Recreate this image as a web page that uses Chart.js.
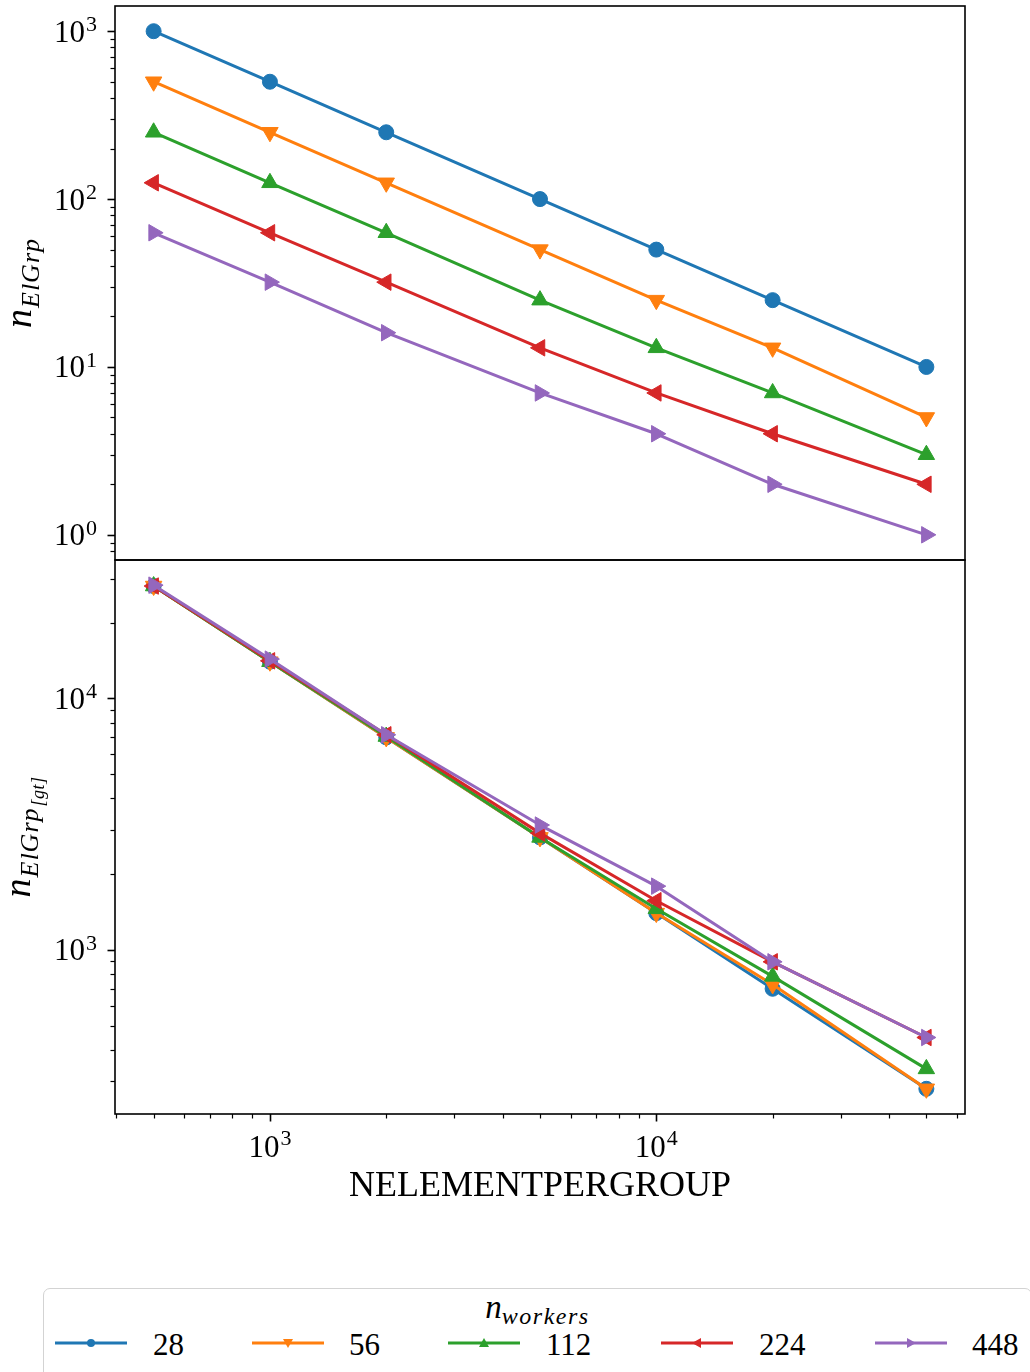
<!DOCTYPE html>
<html><head><meta charset="utf-8">
<script src="https://cdn.jsdelivr.net/npm/chart.js@4.4.1/dist/chart.umd.min.js"></script>
<style>
html,body{margin:0;padding:0;background:#fff;}
body{width:1030px;height:1372px;position:relative;overflow:hidden;font-family:"Liberation Serif",serif;color:#000;}
canvas{position:absolute;left:0;}
#c1{top:0;}
#c2{top:500px;}
#legendBox{position:absolute;left:43px;top:1288px;width:989px;height:130px;border:1.5px solid #d3d3d3;border-radius:7px;box-sizing:border-box;background:#fff;}
.ltxt{position:absolute;font-size:31px;line-height:31px;white-space:nowrap;}
.lsvg{position:absolute;}
</style></head><body>
<canvas id="c1" width="1030" height="600"></canvas>
<canvas id="c2" width="1030" height="760"></canvas>
<div id="legendBox"></div>
<script>
// ---------------- data ----------------
const nElementPerGroup = [500, 1000, 2000, 5000, 10000, 20000, 50000];
const workerLabels = ['28', '56', '112', '224', '448'];
const legendTitle = 'n_workers';

// n_ElGrp (top panel)
const nElGrp_28  = [1000, 500, 250, 100, 50, 25, 10];
const nElGrp_56  = [500, 250, 125, 50, 25, 13, 5];
const nElGrp_112 = [250, 125, 63, 25, 13, 7, 3];
const nElGrp_224 = [125, 63, 32, 13, 7, 4, 2];
const nElGrp_448 = [63, 32, 16, 7, 4, 2, 1];

// n_ElGrp[gt] (bottom panel)
const nElGrpGt_28  = [28000, 14000, 7000, 2800, 1400, 700, 280];
const nElGrpGt_56  = [28000, 14000, 7000, 2800, 1400, 728, 280];
const nElGrpGt_112 = [28000, 14000, 7056, 2800, 1456, 784, 336];
const nElGrpGt_224 = [28000, 14112, 7168, 2912, 1568, 896, 448];
const nElGrpGt_448 = [28224, 14336, 7168, 3136, 1792, 896, 448];

// tick labels
const xTickValues = [1000, 10000];
const xTickLabels = ['10^3', '10^4'];
const topYTickValues = [1, 10, 100, 1000];
const topYTickLabels = ['10^0', '10^1', '10^2', '10^3'];
const botYTickValues = [1000, 10000];
const botYTickLabels = ['10^3', '10^4'];
const xTitle = 'NELEMENTPERGROUP';

// ---------------- styles ----------------
const colors = ['#1f77b4', '#ff7f0e', '#2ca02c', '#d62728', '#9467bd'];
const pStyles = ['circle', 'triangle', 'triangle', 'triangle', 'triangle'];
const pRot = [0, 180, 0, 270, 90];
const pRad = [7.5, 9.5, 9.5, 9.5, 9.5];

const topSeries = [nElGrp_28, nElGrp_56, nElGrp_112, nElGrp_224, nElGrp_448];
const botSeries = [nElGrpGt_28, nElGrpGt_56, nElGrpGt_112, nElGrpGt_224, nElGrpGt_448];

const FONT = '"Liberation Serif", "DejaVu Serif", serif';
const X_MIN = 397.2, X_MAX = 62946;

function makeDatasets(series) {
  return workerLabels.map((w, i) => ({
    label: w,
    data: nElementPerGroup.map((x, j) => ({x: x, y: series[i][j]})),
    borderColor: colors[i],
    backgroundColor: colors[i],
    pointBackgroundColor: colors[i],
    pointBorderColor: colors[i],
    borderWidth: 3,
    pointStyle: pStyles[i],
    rotation: pRot[i],
    pointRotation: pRot[i],
    pointRadius: pRad[i],
    pointBorderWidth: 1,
    pointHoverRadius: pRad[i],
    tension: 0,
    fill: false,
    clip: false,
    order: workerLabels.length - 1 - i
  }));
}

function minorValues(min, max) {
  const out = [];
  for (let d = Math.floor(Math.log10(min)) - 1; d <= Math.ceil(Math.log10(max)); d++) {
    for (let k = 2; k <= 9; k++) {
      const v = k * Math.pow(10, d);
      if (v >= min && v <= max) out.push(v);
    }
  }
  return out;
}

function drawPow(ctx, label, x, y, align, baseDy, expDy) {
  const parts = label.split('^');
  const bf = '31px ' + FONT, ef = '22px ' + FONT;
  ctx.font = bf; const wb = ctx.measureText(parts[0]).width;
  ctx.font = ef; const we = ctx.measureText(parts[1]).width;
  const gap = 1;
  const total = wb + gap + we;
  const x0 = align === 'right' ? x - total : x - total / 2;
  ctx.textAlign = 'left'; ctx.textBaseline = 'alphabetic'; ctx.fillStyle = '#000';
  ctx.font = bf; ctx.fillText(parts[0], x0, y + baseDy);
  ctx.font = ef; ctx.fillText(parts[1], x0 + wb + gap, y + expDy);
}

function drawRotTitle(ctx, parts, bx, cy) {
  ctx.save();
  ctx.translate(bx, cy);
  ctx.rotate(-Math.PI / 2);
  let total = 0;
  parts.forEach(p => {
    ctx.font = 'italic ' + p.size + 'px ' + FONT;
    ctx.letterSpacing = (p.ls || 0) + 'px';
    p.w = ctx.measureText(p.t).width; total += p.w + (p.gap || 0);
  });
  let x = -total / 2;
  ctx.fillStyle = '#000'; ctx.textAlign = 'left'; ctx.textBaseline = 'alphabetic';
  parts.forEach(p => {
    ctx.font = 'italic ' + p.size + 'px ' + FONT;
    ctx.letterSpacing = (p.ls || 0) + 'px';
    x += (p.gap || 0); ctx.fillText(p.t, x, p.dy || 0); x += p.w;
  });
  ctx.letterSpacing = '0px';
  ctx.restore();
}

const decoPlugin = {
  id: 'deco',
  afterDraw(chart, args, o) {
    const ctx = chart.ctx, ca = chart.chartArea;
    const xs = chart.scales.x, ys = chart.scales.y;
    ctx.save();
    ctx.strokeStyle = '#000';
    const line = (x1, y1, x2, y2, w) => { ctx.lineWidth = w; ctx.beginPath(); ctx.moveTo(x1, y1); ctx.lineTo(x2, y2); ctx.stroke(); };
    // y ticks
    minorValues(ys.min, ys.max).forEach(v => { const y = Math.round(ys.getPixelForValue(v)) + 0.5; line(ca.left, y, ca.left - 4.5, y, 1.2); });
    o.yTicks.forEach(v => { const y = Math.round(ys.getPixelForValue(v)) + 0.5; line(ca.left, y, ca.left - 7.5, y, 1.6); });
    o.yLabels.forEach((l, i) => { const y = ys.getPixelForValue(o.yTicks[i]); drawPow(ctx, l, 97, y, 'right', 10.5, 0); });
    // x ticks
    if (o.xAxis) {
      minorValues(xs.min, xs.max).forEach(v => { const x = Math.round(xs.getPixelForValue(v)) + 0.5; line(x, ca.bottom, x, ca.bottom + 4.5, 1.2); });
      o.xTicks.forEach(v => { const x = Math.round(xs.getPixelForValue(v)) + 0.5; line(x, ca.bottom, x, ca.bottom + 7.5, 1.6); });
      o.xLabels.forEach((l, i) => { const x = xs.getPixelForValue(o.xTicks[i]); drawPow(ctx, l, x, ca.bottom, 'center', 43, 31); });
      ctx.font = '36px ' + FONT; ctx.textAlign = 'center'; ctx.textBaseline = 'alphabetic'; ctx.fillStyle = '#000';
      ctx.fillText(o.xTitle, (ca.left + ca.right) / 2, ca.bottom + 82);
    }
    // frame
    ctx.lineWidth = 1.6;
    ctx.strokeRect(ca.left, ca.top, ca.right - ca.left, ca.bottom - ca.top);
    // y title
    drawRotTitle(ctx, o.yTitle, o.yTitleX, (ca.top + ca.bottom) / 2);
    ctx.restore();
  }
};

const common = (padTop, padBottom) => ({
  responsive: false, animation: false, devicePixelRatio: 1,
  layout: {autoPadding: false, padding: {left: 0, top: padTop, right: 65, bottom: padBottom}},
  elements: {line: {borderCapStyle: 'butt', borderJoinStyle: 'round'}},
  events: []
});

function fixY(s) { s.width = 115; s.paddingTop = 0; s.paddingBottom = 0; }
function fixX(s) { s.height = 110; s.paddingLeft = 0; s.paddingRight = 0; }

// top chart
const opt1 = common(6, 40);
opt1.plugins = {legend: {display: false}, tooltip: {enabled: false},
  deco: {yTicks: topYTickValues, yLabels: topYTickLabels, xAxis: false,
         yTitle: [{t: 'n', size: 38}, {t: 'ElGrp', size: 26, dy: 8, gap: 1, ls: 1}], yTitleX: 31}};
opt1.scales = {
  x: {type: 'logarithmic', min: X_MIN, max: X_MAX, bounds: 'data', display: false},
  y: {type: 'logarithmic', min: 0.708, max: 1413, bounds: 'data',
      grid: {display: false}, border: {display: false}, ticks: {display: false},
      afterFit: fixY}
};
new Chart(document.getElementById('c1'), {type: 'line', data: {datasets: makeDatasets(topSeries)}, options: opt1, plugins: [decoPlugin]});

// bottom chart
const opt2 = common(60, 36);
opt2.plugins = {legend: {display: false}, tooltip: {enabled: false},
  deco: {yTicks: botYTickValues, yLabels: botYTickLabels, xAxis: true, xTicks: xTickValues, xLabels: xTickLabels, xTitle: xTitle,
         yTitle: [{t: 'n', size: 38}, {t: 'ElGrp', size: 26, dy: 8, gap: 1, ls: 1}, {t: '[gt]', size: 18, dy: 14, gap: 1, ls: 0.5}], yTitleX: 30}};
opt2.scales = {
  x: {type: 'logarithmic', min: X_MIN, max: X_MAX, bounds: 'data',
      grid: {display: false}, border: {display: false}, ticks: {display: false},
      afterFit: fixX},
  y: {type: 'logarithmic', min: 222.3, max: 35540, bounds: 'data',
      grid: {display: false}, border: {display: false}, ticks: {display: false},
      afterFit: fixY}
};
new Chart(document.getElementById('c2'), {type: 'line', data: {datasets: makeDatasets(botSeries)}, options: opt2, plugins: [decoPlugin]});

// ---------------- legend (HTML) ----------------
(function buildLegend() {
  const body = document.body;
  const tparts = legendTitle.split('_');
  const t = document.createElement('div');
  t.className = 'ltxt';
  t.style.left = '43px'; t.style.width = '989px'; t.style.textAlign = 'center'; t.style.top = '1292px';
  t.innerHTML = '<i style="font-size:33px;">' + tparts[0] + '</i><span style="font-size:24px;font-style:italic;letter-spacing:1.5px;position:relative;top:6px;">' + tparts[1] + '</span>';
  body.appendChild(t);
  const sampleX = [55, 252, 448, 661, 875];
  const labelX = [153, 349, 546, 759, 972];
  const mR = [4, 5, 5, 5, 5];
  workerLabels.forEach((w, i) => {
    const ns = 'http://www.w3.org/2000/svg';
    const svg = document.createElementNS(ns, 'svg');
    svg.setAttribute('width', '72'); svg.setAttribute('height', '20');
    svg.setAttribute('class', 'lsvg');
    svg.style.left = sampleX[i] + 'px'; svg.style.top = (1343 - 10) + 'px';
    const ln = document.createElementNS(ns, 'line');
    ln.setAttribute('x1', '0'); ln.setAttribute('x2', '72'); ln.setAttribute('y1', '10'); ln.setAttribute('y2', '10');
    ln.setAttribute('stroke', colors[i]); ln.setAttribute('stroke-width', '3');
    svg.appendChild(ln);
    let m;
    if (pStyles[i] === 'circle') {
      m = document.createElementNS(ns, 'circle');
      m.setAttribute('cx', '36'); m.setAttribute('cy', '10'); m.setAttribute('r', mR[i]);
    } else {
      m = document.createElementNS(ns, 'polygon');
      const r = mR[i];
      m.setAttribute('points', `0,${-r} ${-r},${r*0.8} ${r},${r*0.8}`);
      m.setAttribute('transform', `translate(36,10) rotate(${pRot[i]})`);
    }
    m.setAttribute('fill', colors[i]);
    svg.appendChild(m);
    body.appendChild(svg);
    const lab = document.createElement('div');
    lab.className = 'ltxt';
    lab.textContent = w;
    lab.style.left = labelX[i] + 'px'; lab.style.top = '1329px';
    body.appendChild(lab);
  });
})();
</script>
</body></html>
